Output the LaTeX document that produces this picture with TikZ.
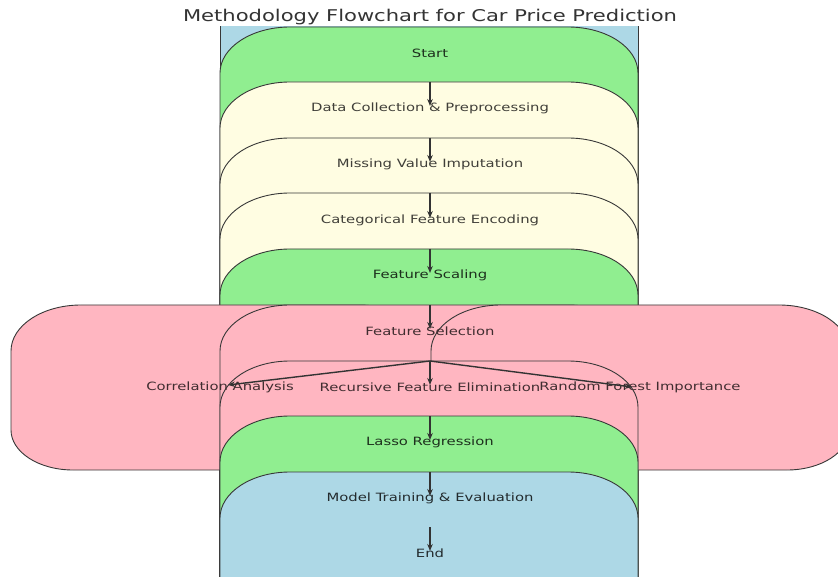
\documentclass[tikz,border=0pt]{standalone}
\usepackage{fontspec}
\setmainfont{DejaVu Sans}
\usetikzlibrary{arrows.meta}

\definecolor{boxgreen}{RGB}{144,238,144}
\definecolor{boxcream}{RGB}{255,253,226}
\definecolor{boxpink}{RGB}{255,182,193}
\definecolor{boxblue}{RGB}{173,216,230}
\definecolor{edgegray}{RGB}{55,55,55}

% rounded box with elliptic corners: fill, left, top, right, bottom (pixels, y down)
\newcommand{\stagebox}[5]{%
  \draw[boxline,fill=#1] (#2,{-(#5)+40}) -- (#2,{-(#3)-46})
    arc[start angle=180,end angle=90,x radius=70pt,y radius=46pt]
    -- ({#4-70},-#3)
    arc[start angle=90,end angle=0,x radius=70pt,y radius=46pt]
    -- (#4,{-(#5)+40})
    arc[start angle=0,end angle=-90,x radius=62pt,y radius=40pt]
    -- ({#2+62},-#5)
    arc[start angle=-90,end angle=-180,x radius=62pt,y radius=40pt] -- cycle;}

\tikzset{
  boxline/.style={draw=edgegray,line width=0.9pt},
  lbl/.style={font=\fontsize{11.4}{13}\selectfont,xscale=1.3,inner sep=1pt},
  arr/.style={-{Stealth[length=7pt,width=5.5pt]},line width=1.4pt,draw=black!80}
}

\begin{document}
\begin{tikzpicture}[x=1pt,y=1pt]
  \useasboundingbox (0,0) rectangle (838,-577);
  \node[xscale=1.3,text=black!80] (title) at (430,-17) {\fontsize{16.2}{18}\selectfont Methodology Flowchart for Car Price Prediction};
  %
  \begin{scope}
    \clip (0,-27) rectangle (838,-577);
    \draw[boxline,fill=boxblue] (220,0) rectangle (638,-700);
    \stagebox{boxgreen}{220}{27}{638}{700}
    \stagebox{boxcream}{220}{82}{638}{700}
    \stagebox{boxcream}{220}{138}{638}{700}
    \stagebox{boxcream}{220}{193}{638}{700}
    \stagebox{boxgreen}{220}{249}{638}{700}
    \stagebox{boxpink}{11}{305}{429}{470}
    \stagebox{boxpink}{220}{305}{638}{700}
    \stagebox{boxpink}{431}{305}{849}{470}
    \stagebox{boxpink}{220}{361}{638}{700}
    \stagebox{boxgreen}{220}{416}{638}{700}
    \stagebox{boxblue}{220}{472}{638}{700}
  \end{scope}
  %
  \node[lbl,text=boxgreen!20!black] (start) at (430,-53) {Start};
  \node[lbl,text=boxcream!25!black] (collect) at (430,-108) {Data Collection \& Preprocessing};
  \node[lbl,text=boxcream!25!black] (impute) at (430,-164) {Missing Value Imputation};
  \node[lbl,text=boxcream!25!black] (encode) at (430,-220) {Categorical Feature Encoding};
  \node[lbl,text=boxgreen!20!black] (scale) at (430,-275) {Feature Scaling};
  \node[lbl,text=boxpink!25!black] (select) at (430,-331) {Feature Selection};
  \node[lbl,text=boxpink!25!black] (corr) at (220,-387) {Correlation Analysis};
  \node[lbl,text=boxpink!25!black] (rfe) at (430,-387) {Recursive Feature Elimination};
  \node[lbl,text=boxpink!25!black] (rf) at (640,-387) {Random Forest Importance};
  \node[lbl,text=boxgreen!20!black] (lasso) at (430,-442) {Lasso Regression};
  \node[lbl,text=boxblue!20!black] (train) at (430,-498) {Model Training \& Evaluation};
  \node[lbl,text=boxblue!20!black] (finish) at (430,-553) {End};
  %
  \coordinate (c1) at (430,-82);
  \coordinate (c2) at (430,-138);
  \coordinate (c3) at (430,-193);
  \coordinate (c4) at (430,-249);
  \coordinate (c5) at (430,-305);
  \coordinate (c6) at (430,-361);
  \coordinate (c7) at (430,-416);
  \coordinate (c8) at (430,-472);
  \coordinate (c9) at (430,-527);
  %
  \path
  (c1) edge[arr] ([yshift=2pt]collect.center)
  (c2) edge[arr] ([yshift=2pt]impute.center)
  (c3) edge[arr] ([yshift=2pt]encode.center)
  (c4) edge[arr] ([yshift=2pt]scale.center)
  (c5) edge[arr] ([yshift=2pt]select.center)
  (c6) edge[arr] ([yshift=2pt]rfe.center)
  (c6) edge[arr] ([xshift=8pt,yshift=2pt]corr.center)
  (c6) edge[arr] ([xshift=-8pt]rf.center)
  (c7) edge[arr] ([yshift=2pt]lasso.center)
  (c8) edge[arr] ([yshift=2pt]train.center)
  (c9) edge[arr] ([yshift=2pt]finish.center);
\end{tikzpicture}
\end{document}
